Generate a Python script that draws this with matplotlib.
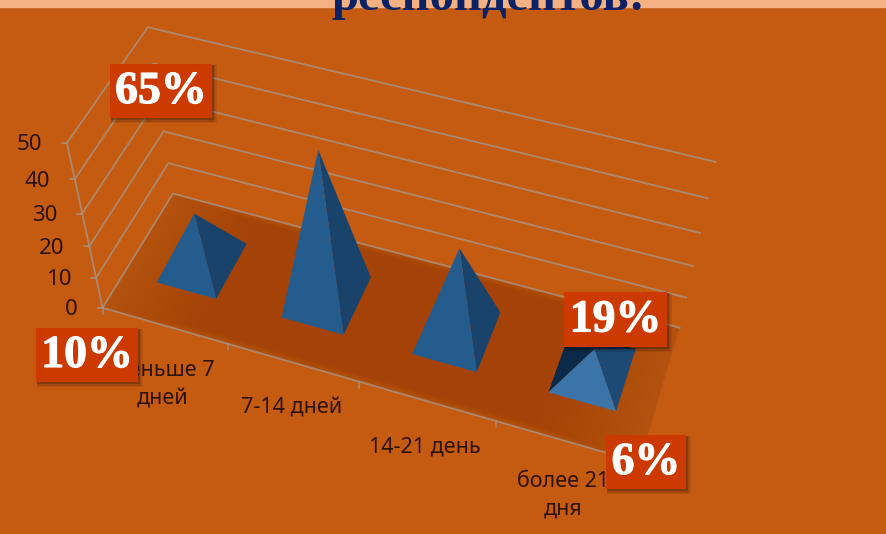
import numpy as np
import matplotlib
matplotlib.use('Agg')
import matplotlib.pyplot as plt
import matplotlib.patheffects as pe
from matplotlib.patches import Polygon, Rectangle

categories = ['меньше 7\nдней', '7-14 дней', '14-21 день', 'более 21\nдня']
values = [16, 45, 27, 7]
z_ticks = [0, 10, 20, 30, 40, 50]
callouts = ['65%', '10%', '19%', '6%']
title = 'респондентов:'

# box x0, y0, x1, y1 in picture pixels
callout_boxes = [(110, 64, 212, 118), (36, 328, 138, 382), (564, 292, 667, 347), (606, 435, 686, 489)]
label_pos = [(163, 384), (292, 407), (425, 447), (563, 495)]

BG = '#C55A11'
GRID = '#A8917E'
TXT = '#2E1206'
BOX = '#CC3A02'

# calibration of the 3d view: (category pos, depth, value) -> picture pixel
calib_3d = np.array([
    [0, 0, 0], [0, 1, 0], [0, 0, 50], [0, 1, 50], [4, 0, 0], [4, 1, 0], [4, 1, 50],
    [0, 0, 20], [0, 1, 20], [4, 1, 40], [1, 0, 0], [2, 0, 0], [3, 0, 0],
], dtype=float)
calib_px = np.array([
    [103, 307], [173, 194], [67, 142], [148, 26], [641, 462], [680, 326], [715, 163],
    [90, 247], [163, 132], [708, 199], [228, 345], [358, 382], [495, 421],
], dtype=float)


def fit_view(pts, px):
    rows = []
    for (x, y, z), (u, v) in zip(pts, px):
        rows.append([x, y, z, 1, 0, 0, 0, 0, -u * x, -u * y, -u * z, -u])
        rows.append([0, 0, 0, 0, x, y, z, 1, -v * x, -v * y, -v * z, -v])
    return np.linalg.svd(np.array(rows))[2][-1].reshape(3, 4)


VIEW = fit_view(calib_3d, calib_px)


def proj(x, y, z):
    p = VIEW @ np.array([x, y, z, 1.0])
    return p[0] / p[2], p[1] / p[2]


fig = plt.figure(figsize=(8.87, 5.34), dpi=100, facecolor=BG)
ax = fig.add_axes([0, 0, 1, 1])
ax.set_xlim(0, 887)
ax.set_ylim(534, 0)
ax.axis('off')

# top strip of the slide + cut off title
ax.add_patch(Rectangle((0, 0), 887, 6.5, color='#F4B183', zorder=1))
ax.text(488, 10, title, family='Liberation Serif', weight='bold', fontsize=35, color='#0B2266',
        ha='center', va='baseline', zorder=2)

# floor, a bit darker in the middle
floor = [proj(0, 0, 0), proj(0, 1, 0), proj(4, 1, 0), proj(4, 0, 0)]
ax.add_patch(Polygon(floor, color='#6B3008', alpha=0.2, lw=0, zorder=3))
for i in range(1, 16):
    k = i * 0.012
    corners = [(k * 4, k * 0.3), (k * 4, 1 - k * 0.3), (4 - k * 4, 1 - k * 0.3), (4 - k * 4, k * 0.3)]
    ax.add_patch(Polygon([proj(a, b, 0) for a, b in corners], color='#6B3008', alpha=0.012, lw=0, zorder=3))

# gridlines on the walls
for z in z_ticks:
    pts = [proj(0, 0, z), proj(0, 1, z), proj(4, 1, z)]
    ax.plot(*zip(*pts), color=GRID, lw=1.3, alpha=0.85, zorder=4)
    x0, y0 = proj(0, 0, z)
    ax.plot([x0 - 5, x0], [y0, y0], color=GRID, lw=1.1, zorder=4)
    ax.text(x0 - 25, y0 + 2, str(z), family='Noto Sans', fontsize=16, color=TXT, ha='right', va='center', zorder=4)
ax.plot(*zip(proj(0, 0, 0), proj(0, 0, 50)), color=GRID, lw=1.3, alpha=0.85, zorder=4)
ax.plot(*zip(proj(0, 0, 0), proj(4, 0, 0)), color=GRID, lw=1.3, alpha=0.85, zorder=4)
for c in range(5):
    x0, y0 = proj(c, 0, 0)
    ax.plot([x0, x0], [y0, y0 + 6], color=GRID, lw=1.1, alpha=0.85, zorder=4)

# pyramids
half_w = 0.24
half_d = 0.235
mid_d = 0.525
front_cols = ['#245C8E', '#245C8E', '#245C8E', '#3A74A8']
right_cols = ['#1A436B', '#1A436B', '#1A436B', '#1C4A74']
for i, val in enumerate(values):
    cx = i + 0.51
    fl = proj(cx - half_w, mid_d - half_d, 0)
    fr = proj(cx + half_w, mid_d - half_d, 0)
    br = proj(cx + half_w, mid_d + half_d, 0)
    bl = proj(cx - half_w, mid_d + half_d, 0)
    top = proj(cx - 0.01, mid_d, val)
    # back faces only show on the low pyramid
    if val < 10:
        ax.add_patch(Polygon([bl, br, top], color='#0B2A48', lw=0, zorder=5))
        ax.add_patch(Polygon([fl, bl, top], color='#0B2A48', lw=0, zorder=5))
    ax.add_patch(Polygon([fr, br, top], color=right_cols[i], lw=0, zorder=6))
    ax.add_patch(Polygon([fl, fr, top], color=front_cols[i], lw=0, zorder=7))

# category labels
for name, (tx, ty) in zip(categories, label_pos):
    ax.text(tx, ty, name, family='Noto Sans', fontsize=15.5, color=TXT, ha='center', va='center',
            linespacing=1.4, zorder=8)

# red callouts with a soft shadow
for txt, (x0, y0, x1, y1) in zip(callouts, callout_boxes):
    for s, a in ((5, 0.08), (3.5, 0.12), (2, 0.18)):
        ax.add_patch(Rectangle((x0 + 1, y0 + 1), x1 - x0 + s - 1, y1 - y0 + s - 1, color='black', alpha=a, lw=0, zorder=9))
    ax.add_patch(Rectangle((x0, y0), x1 - x0, y1 - y0, color=BOX, lw=0, zorder=10))
    ax.text((x0 + x1) / 2, (y0 + y1) / 2 + 1, txt, family='Liberation Serif', weight='bold', fontsize=33,
            color='white', ha='center', va='center', zorder=11,
            path_effects=[pe.withStroke(linewidth=0.8, foreground='white')])

fig.savefig('out.png', dpi=100, facecolor=BG)
